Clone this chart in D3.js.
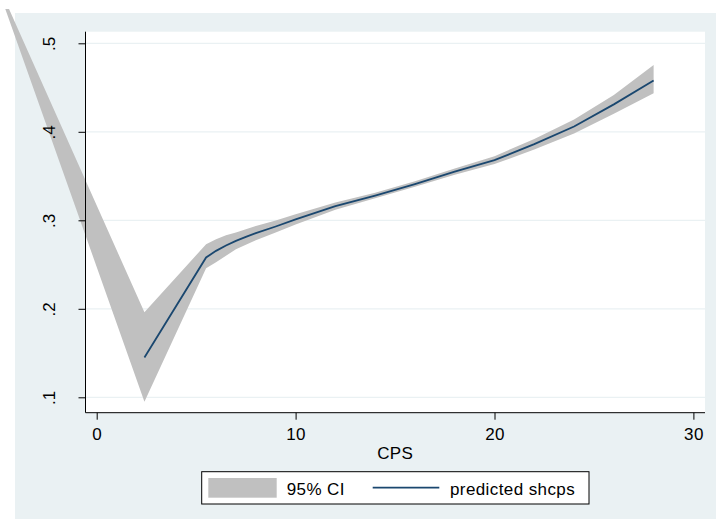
<!DOCTYPE html>
<html><head><meta charset="utf-8">
<script src="https://cdn.jsdelivr.net/npm/d3@7"></script>
<style>body{margin:0;background:#fff}svg{display:block}text{font-family:"Liberation Sans",Arial,Helvetica,sans-serif}</style>
</head><body><svg id="c" width="716" height="519"></svg>
<script>
// ---- data ----
const cps       = [2.4, 5.5, 6, 6.5, 7, 7.5, 8, 9, 10, 12, 14, 16, 18, 20, 22, 24, 26, 28];
const predicted = [0.145, 0.258, 0.2655, 0.2715, 0.2768, 0.2812, 0.2855, 0.293, 0.301, 0.316, 0.328, 0.341, 0.355, 0.368, 0.386, 0.406, 0.431, 0.458];
const ciCps     = [-5, 2.4, 5.5, 6, 6.5, 7, 7.5, 8, 9, 10, 12, 14, 16, 18, 20, 22, 24, 26, 28];
const ciUpper   = [0.5686, 0.196, 0.273, 0.2785, 0.283, 0.2863, 0.29, 0.2935, 0.2998, 0.3068, 0.3202, 0.3312, 0.344, 0.3585, 0.3725, 0.392, 0.4138, 0.4415, 0.4755];
const ciLower   = [0.5644, 0.095, 0.2457, 0.2525, 0.26, 0.2673, 0.2724, 0.2775, 0.2862, 0.2952, 0.3118, 0.3248, 0.338, 0.3515, 0.3635, 0.380, 0.3982, 0.4205, 0.4435];
const xTicks = [0, 10, 20, 30];
const xTickLabels = ["0", "10", "20", "30"];
const yTicks = [0.1, 0.2, 0.3, 0.4, 0.5];
const yTickLabels = [".1", ".2", ".3", ".4", ".5"];
const xTitle = "CPS";
const legendLabels = ["95% CI", "predicted shcps"];

// ---- layout ----
const W = 716, H = 519;
const panel = {x: 15, y: 13};
const plot = {l: 85.5, r: 705, t: 31.7, b: 412.7};
const lineColor = "#1a476f", ciColor = "#c0c0c0", bgColor = "#eaf1f3";
const fs = 17, ls = "0.4px";

const svg = d3.select("#c");
svg.append("rect").attr("x", panel.x).attr("y", panel.y).attr("width", W - panel.x).attr("height", H - panel.y).attr("fill", bgColor);
svg.append("rect").attr("x", plot.l).attr("y", plot.t).attr("width", plot.r - plot.l).attr("height", plot.b - plot.t).attr("fill", "#fff");

const x = d3.scaleLinear().domain([0, 30]).range([96.7, 693.4]);
const y = d3.scaleLinear().domain([0.1, 0.5]).range([397.3, 43.3]);

// grid
svg.append("g").selectAll("line").data(yTicks).join("line")
  .attr("x1", plot.l).attr("x2", plot.r).attr("y1", d => y(d)).attr("y2", d => y(d))
  .attr("stroke", bgColor).attr("stroke-width", 1.2);

// clip for CI (top of graph)
svg.append("clipPath").attr("id", "clipTop").append("rect").attr("x", 0).attr("y", 9).attr("width", W).attr("height", H);

const ciData = ciCps.map((c, i) => ({c, lo: ciLower[i], hi: ciUpper[i]}));
svg.append("path").datum(ciData)
  .attr("clip-path", "url(#clipTop)")
  .attr("fill", ciColor)
  .attr("d", d3.area().x(d => x(d.c)).y0(d => y(d.lo)).y1(d => y(d.hi)));

const lineData = cps.map((c, i) => ({c, v: predicted[i]}));
svg.append("path").datum(lineData)
  .attr("fill", "none").attr("stroke", lineColor).attr("stroke-width", 1.8)
  .attr("d", d3.line().x(d => x(d.c)).y(d => y(d.v)));

// axes
const xAxis = svg.append("g").attr("transform", `translate(0,${plot.b})`)
  .call(d3.axisBottom(x).tickValues(xTicks).tickFormat((d, i) => xTickLabels[i]).tickSize(7).tickSizeOuter(0).tickPadding(8.5));
xAxis.select(".domain").remove();
xAxis.selectAll("text").attr("font-size", fs).attr("fill", "#000").attr("letter-spacing", ls).style("font-family", '"Liberation Sans",Arial,sans-serif');
xAxis.selectAll(".tick line").attr("stroke", "#000");

const yAxis = svg.append("g").attr("transform", `translate(${plot.l},0)`)
  .call(d3.axisLeft(y).tickValues(yTicks).tickFormat((d, i) => yTickLabels[i]).tickSize(7).tickSizeOuter(0));
yAxis.select(".domain").remove();
yAxis.selectAll(".tick line").attr("stroke", "#000");
yAxis.selectAll("text")
  .attr("font-size", fs).attr("fill", "#000").style("font-family", '"Liberation Sans",Arial,sans-serif')
  .attr("x", 0).attr("y", -(plot.l - 55)).attr("dy", null)
  .attr("text-anchor", "middle").attr("transform", "rotate(-90)");

svg.append("line").attr("x1", plot.l).attr("x2", plot.l).attr("y1", plot.t).attr("y2", plot.b).attr("stroke", "#000");
svg.append("line").attr("x1", plot.l).attr("x2", plot.r).attr("y1", plot.b).attr("y2", plot.b).attr("stroke", "#000");

svg.append("text").attr("x", (plot.l + plot.r) / 2).attr("y", 458.5).attr("text-anchor", "middle")
  .attr("font-size", fs).attr("letter-spacing", ls).text(xTitle);

// legend
const lg = svg.append("g");
lg.append("rect").attr("x", 201.7).attr("y", 471.7).attr("width", 387.3).attr("height", 32.3)
  .attr("fill", "#fff").attr("stroke", "#000").attr("stroke-width", 1);
lg.append("rect").attr("x", 208.3).attr("y", 478).attr("width", 68.4).attr("height", 19.7).attr("fill", ciColor);
lg.append("text").attr("x", 286.7).attr("y", 494.5).attr("font-size", fs).attr("letter-spacing", ls).text(legendLabels[0]);
lg.append("line").attr("x1", 372.7).attr("x2", 439.3).attr("y1", 487.7).attr("y2", 487.7).attr("stroke", lineColor).attr("stroke-width", 1.8);
lg.append("text").attr("x", 450).attr("y", 494.5).attr("font-size", fs).attr("letter-spacing", ls).text(legendLabels[1]);
</script></body></html>
